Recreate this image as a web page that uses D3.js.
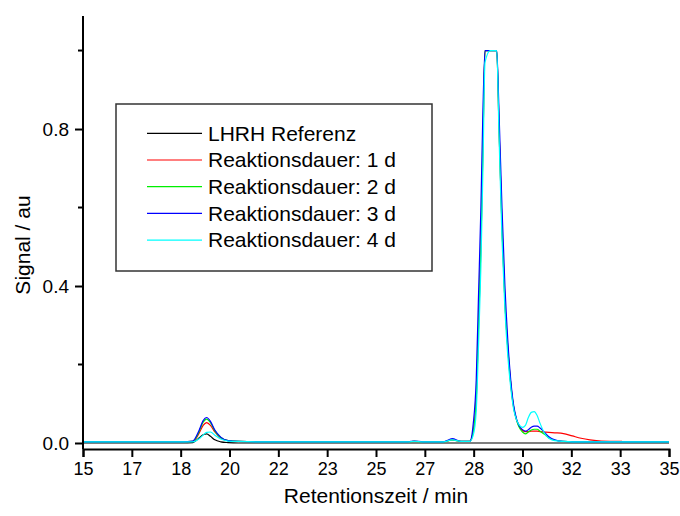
<!DOCTYPE html>
<html><head><meta charset="utf-8">
<script src="https://cdn.jsdelivr.net/npm/d3@7"></script>
<style>body{margin:0;background:#fff}svg{display:block}text{font-family:"Liberation Sans",Arial,sans-serif;fill:#000}</style>
</head><body><svg id="c" width="680" height="516"></svg>
<script>
// ---- data ----
const time = [15,17,18.4,18.75,18.95,19.1,19.22,19.35,19.5,19.7,19.95,20.3,21,23,25,26.1,26.3,26.6,27.3,27.6,27.9,28.2,28.32,28.42,28.5,28.58,28.65,28.72,28.9,29.12,29.2,29.3,29.4,29.5,29.6,29.7,29.8,29.9,30.0,30.1,30.2,30.3,30.4,30.5,30.6,30.75,30.9,31.1,31.4,31.7,32.0,32.3,32.7,33.4,34,35];
const seriesNames = ["LHRH Referenz","Reaktionsdauer: 1 d","Reaktionsdauer: 2 d","Reaktionsdauer: 3 d","Reaktionsdauer: 4 d"];
const seriesColors = ["#000000","#ff0000","#00ee00","#0000ff","#00ffff"];
const ref = [0,0,0,0.001,0.012,0.021,0.023,0.017,0.008,0.003,0.001,0,0,0,0,0,0,0,0,0,0,0,0,0,0,0,0,0,0,0,0,0,0,0,0,0,0,0,0,0,0,0,0,0,0,0,0,0,0,0,0,0,0,0,0,0];
const d1 = [0.003,0.003,0.003,0.004,0.023,0.045,0.052,0.045,0.028,0.013,0.006,0.004,0.003,0.003,0.003,0.003,0.004,0.003,0.003,0.008,0.004,0.004,0.03,0.11,0.3,0.5,0.76,1.0,1.0,1.0,0.8,0.55,0.36,0.24,0.15,0.09,0.058,0.042,0.032,0.029,0.029,0.03,0.03,0.03,0.029,0.028,0.027,0.026,0.024,0.018,0.012,0.008,0.005,0.004,null,null];
const d2 = [0.003,0.003,0.003,0.004,0.027,0.053,0.061,0.052,0.031,0.014,0.006,0.004,0.003,0.003,0.003,0.003,0.004,0.003,0.003,0.008,0.004,0.004,0.03,0.11,0.3,0.5,0.76,1.0,1.0,1.0,0.8,0.55,0.36,0.24,0.15,0.09,0.058,0.038,0.028,0.023,0.028,0.033,0.035,0.035,0.03,0.022,0.013,0.007,0.004,0.003,0.003,0.003,0.003,0.003,0.003,0.003];
const d3v = [0.003,0.003,0.003,0.005,0.03,0.057,0.065,0.055,0.033,0.015,0.006,0.004,0.003,0.003,0.003,0.003,0.005,0.003,0.003,0.011,0.004,0.004,0.05,0.16,0.38,0.6,0.85,1.0,1.0,1.0,0.84,0.6,0.4,0.26,0.16,0.095,0.06,0.042,0.034,0.03,0.034,0.04,0.043,0.043,0.038,0.027,0.016,0.008,0.004,0.003,0.003,0.003,0.003,0.003,0.003,0.003];
const d4 = [0.003,0.003,0.003,0.003,0.01,0.02,0.027,0.028,0.02,0.01,0.005,0.004,0.003,0.003,0.003,0.003,0.004,0.003,0.003,0.008,0.004,0.004,0.02,0.08,0.25,0.45,0.7,0.97,1.0,1.0,0.78,0.52,0.34,0.22,0.14,0.085,0.058,0.045,0.04,0.045,0.065,0.078,0.08,0.07,0.05,0.025,0.012,0.006,0.004,0.003,0.003,0.003,0.003,0.003,0.003,0.003];
const seriesValues = [ref,d1,d2,d3v,d4];
const xTickLabels = ["15","17","18","20","22","23","25","27","28","30","32","33","35"];
const yMajorTicks = [0,0.4,0.8];
const yMinorTicks = [0.2,0.6,1.0];
const xDomain = [15,35];
const yDomain = [-0.0153,1.088];

// ---- drawing ----
const svg = d3.select("#c");
const L=83,R=669,T=16,B=449;
const x = d3.scaleLinear().domain(xDomain).range([L,R]);
const y = d3.scaleLinear().domain(yDomain).range([B,T]);

const line = d3.line().defined(d=>d[1]!==null).x(d=>x(d[0])).y(d=>y(d[1])).curve(d3.curveMonotoneX);
seriesValues.forEach((vals,i)=>{
  svg.append("path").datum(time.map((t,j)=>[t,vals[j]]))
    .attr("d",line).attr("fill","none").attr("stroke",seriesColors[i]).attr("stroke-width",1.2);
});

// x axis
const xTickVals = xTickLabels.map((_,i)=>xDomain[0]+i*(xDomain[1]-xDomain[0])/(xTickLabels.length-1));
const xAxis = d3.axisBottom(x).tickValues(xTickVals).tickSize(8).tickPadding(5)
  .tickFormat((d,i)=>xTickLabels[i]);
const gx = svg.append("g").attr("transform",`translate(0,${B})`).call(xAxis);
gx.select(".domain").attr("stroke","#000").attr("stroke-width",2);
gx.selectAll(".tick line").attr("stroke","#000").attr("stroke-width",2);
gx.selectAll(".tick text").attr("font-size",18).attr("font-family","Liberation Sans, Arial, sans-serif").attr("fill","#000");

// y axis
const yAxis = d3.axisLeft(y).tickValues(yMajorTicks).tickSize(8).tickPadding(6).tickFormat(d3.format(".1f"));
const gy = svg.append("g").attr("transform",`translate(${L},0)`).call(yAxis);
gy.select(".domain").attr("d",`M0,${B}V${T}`).attr("stroke","#000").attr("stroke-width",2);
gy.selectAll(".tick line").attr("stroke","#000").attr("stroke-width",2);
gy.selectAll(".tick text").attr("font-size",19).attr("font-family","Liberation Sans, Arial, sans-serif").attr("fill","#000");
gy.selectAll(".minor").data(yMinorTicks).enter().append("line")
  .attr("x1",-5).attr("x2",0).attr("y1",d=>y(d)).attr("y2",d=>y(d)).attr("stroke","#000").attr("stroke-width",2);

// titles
svg.append("text").attr("x",(L+R)/2).attr("y",503).attr("text-anchor","middle").attr("font-size",21).text("Retentionszeit / min");
svg.append("text").attr("transform",`translate(30,245) rotate(-90)`).attr("text-anchor","middle").attr("font-size",21).text("Signal / au");

// legend
const lg = svg.append("g");
lg.append("rect").attr("x",116).attr("y",104).attr("width",316).attr("height",167).attr("fill","#fff").attr("stroke","#333").attr("stroke-width",1.5);
seriesNames.forEach((n,i)=>{
  const yy = 133.3 + i*26.7;
  lg.append("line").attr("x1",147).attr("x2",202).attr("y1",yy).attr("y2",yy).attr("stroke",seriesColors[i]).attr("stroke-width",1.2);
  lg.append("text").attr("x",208).attr("y",yy).attr("dy","0.35em").attr("font-size",21).text(n);
});
</script></body></html>
